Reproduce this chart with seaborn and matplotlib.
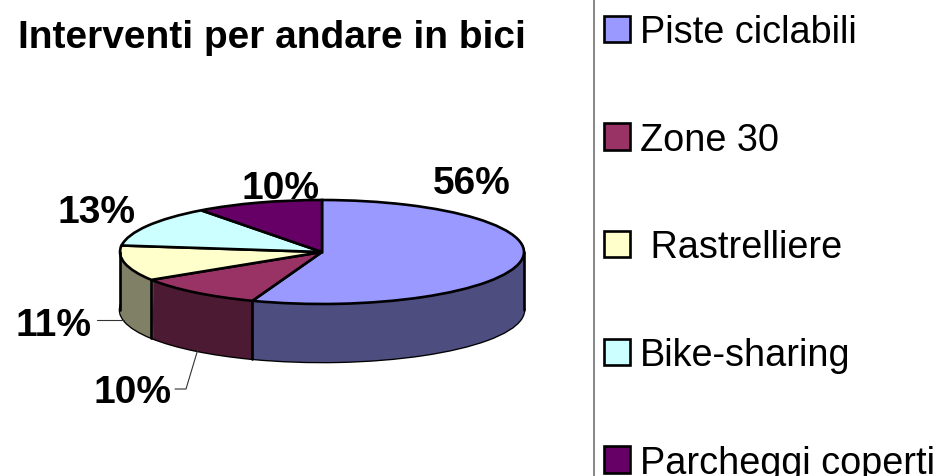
import matplotlib
matplotlib.use("Agg")
import matplotlib.pyplot as plt
import numpy as np
import seaborn as sns
from matplotlib.colors import to_rgb
from matplotlib.lines import Line2D

categories = ["Piste ciclabili", "Zone 30", " Rastrelliere", "Bike-sharing", "Parcheggi coperti"]
shares = [55.6, 10.4, 11, 12.8, 10.2]
colours = ["#9999FF", "#993366", "#FFFFCC", "#CCFFFF", "#660066"]
pct_labels = ["56%", "10%", "11%", "13%", "10%"]

W, H = 942, 477
CX, CY, RX, RY, DEPTH = 322, 253, 202, 52, 58


def fx(px):
    return px / W


def fy(py):
    return 1 - py / H


sns.set_theme(style="white")
plt.rcParams["font.family"] = ["Liberation Sans", "DejaVu Sans"]
plt.rcParams["text.color"] = "black"

fig = plt.figure(figsize=(W / 100, H / 100), dpi=100)
ax = fig.add_axes([0, 0, 1, 1])

depth = DEPTH / RY
side_colours = [tuple(c * 0.5 for c in to_rgb(col)) for col in colours]

# fake 3d: stack of darker pies, then the top one
ax.pie(shares, colors=side_colours, startangle=90, counterclock=False, center=(0, -depth),
       wedgeprops={"edgecolor": "black", "linewidth": 1.9})
for d in np.linspace(depth, 0, 60):
    ax.pie(shares, colors=side_colours, startangle=90, counterclock=False, center=(0, -d),
           wedgeprops={"linewidth": 0})
wedges, _ = ax.pie(shares, colors=colours, startangle=90, counterclock=False,
                   wedgeprops={"edgecolor": "black", "linewidth": 1.9})

ax.set_aspect("auto")
ax.set_xlim(-CX / RX, (W - CX) / RX)
ax.set_ylim((CY - H) / RY, CY / RY)
ax.axis("off")

# vertical edges on the front of the pie
ends = 90 - np.cumsum(shares) * 3.6
front = [a for a in ends if -180 < a < 0] + [0, -180]
for a in front:
    x = np.cos(np.radians(a))
    y = np.sin(np.radians(a))
    ax.plot([x, x], [y, y - depth], color="black", lw=1.9)

fig.text(fx(18), fy(38), "Interventi per andare in bici", fontsize=28, fontweight="bold",
         ha="left", va="center")

label_pos = [(472, 184), (280, 189), (54, 326), (96, 213), (133, 393)]
order = [0, 4, 2, 3, 1]
for i, (px, py) in zip(order, label_pos):
    fig.text(fx(px), fy(py), pct_labels[i], fontsize=28, fontweight="bold", ha="center", va="center")

# leader lines
fig.add_artist(Line2D([fx(97), fx(124)], [fy(321), fy(321)], color="#333333", lw=0.8))
fig.add_artist(Line2D([fx(175), fx(186), fx(198)], [fy(390), fy(390), fy(350)], color="#333333", lw=0.8))

# separator left of the legend
fig.add_artist(Line2D([fx(594), fx(594)], [0, 1], color="#666666", lw=1.1))

fig.legend(wedges, categories, loc="upper left", bbox_to_anchor=(fx(604), fy(15)), frameon=False,
           fontsize=27.3, handlelength=0.69, handleheight=0.69, handletextpad=0.26,
           labelspacing=1.89, borderpad=0, borderaxespad=0)

fig.savefig("out.png", dpi=100)
